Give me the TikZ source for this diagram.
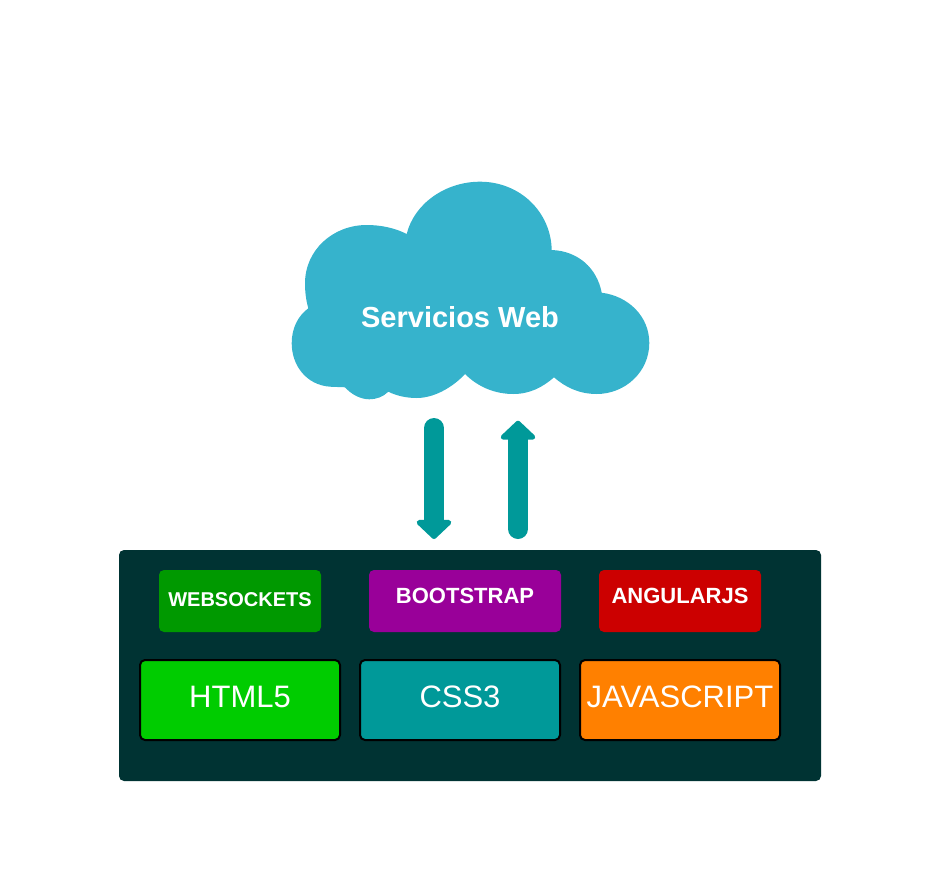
\documentclass[tikz,border=0pt]{standalone}
\usepackage{fontspec}
\setmainfont{Liberation Sans}
\usetikzlibrary{arrows.meta}
\definecolor{cloudblue}{HTML}{36B3CC}
\definecolor{teal1}{HTML}{009999}
\definecolor{panel}{HTML}{003333}
\definecolor{wsgreen}{HTML}{009900}
\definecolor{bspurple}{HTML}{990099}
\definecolor{ngred}{HTML}{CC0000}
\definecolor{htmlgreen}{HTML}{00CC00}
\definecolor{jsorange}{HTML}{FF8000}
\tikzset{
  topbox/.style={rounded corners=5pt,text=white,inner sep=0pt,minimum height=62pt,font=\fontsize{22}{26}\selectfont\bfseries,text height=17pt,text depth=11.4pt},
  basebox/.style={draw=black,line width=2pt,rounded corners=5pt,text=white,inner sep=0pt,minimum width=200pt,minimum height=80pt,font=\fontsize{31}{36}\selectfont,text height=25pt,text depth=10pt},
  blockarrow/.style={draw=teal1,line width=20pt,line cap=round,-{Triangle[width=41pt,length=20pt,round]}}
}
\begin{document}
\begin{tikzpicture}[x=1pt,y=-1pt]
\useasboundingbox (0,0) rectangle (943,889);
% cloud
\fill[cloudblue] (406.7,234) .. controls (414,204) and (445,181.7) .. (480,181.7)
 .. controls (520,181.7) and (551,212) .. (551.7,250)
 .. controls (578,251) and (597,268) .. (601.7,292.7)
 .. controls (628,296) and (649.3,316) .. (649.3,343)
 .. controls (649.3,372) and (625,394) .. (596.7,394)
 .. controls (579,394) and (565,387) .. (554,377.3)
 .. controls (543,387) and (530,394) .. (513.3,394)
 .. controls (495,394) and (478,387) .. (465,374)
 .. controls (456,384) and (437,398) .. (416.7,398)
 .. controls (407,398) and (397,396) .. (388.3,391.7)
 .. controls (383,397) and (376,399.3) .. (369.3,399.3)
 .. controls (360,399.3) and (351,394) .. (345,387.3)
 .. controls (340,387) and (335,387) .. (330,386.7)
 .. controls (306,385) and (291.7,365) .. (291.7,343.3)
 .. controls (291.7,328) and (298,316) .. (308.3,308.3)
 .. controls (306,300) and (305,292) .. (305,283.3)
 .. controls (305,250) and (333,225) .. (366.7,225)
 .. controls (381,225) and (395,228) .. (406.7,234) -- cycle;
\node[anchor=base,text=white,font=\fontsize{29}{34}\selectfont\bfseries] (cloudlabel) at (460,327.5) {Servicios Web};
% arrows
\coordinate (downstart) at (434,428);
\coordinate (downend) at (434,539);
\coordinate (upstart) at (518,529);
\coordinate (upend) at (518,420.7);
\draw[blockarrow] (downstart) -- (downend);
\draw[blockarrow] (upstart) -- (upend);
% panel
\node[fill=panel,rounded corners=5pt,inner sep=0pt,minimum width=702pt,minimum height=231pt] (stack) at (470,665.5) {};
% top row
\node[topbox,fill=wsgreen,minimum width=162pt,font=\fontsize{20}{24}\selectfont\bfseries,text depth=6.6pt] (ws) at (240,601) {WEBSOCKETS};
\node[topbox,fill=bspurple,minimum width=192pt] (bs) at (465,601) {BOOTSTRAP};
\node[topbox,fill=ngred,minimum width=162pt] (ng) at (680,601) {ANGULARJS};
% base row
\node[basebox,fill=htmlgreen] (html) at (240,700) {HTML5};
\node[basebox,fill=teal1] (css) at (460,700) {CSS3};
\node[basebox,fill=jsorange] (js) at (680,700) {JAVASCRIPT};
\end{tikzpicture}
\end{document}
